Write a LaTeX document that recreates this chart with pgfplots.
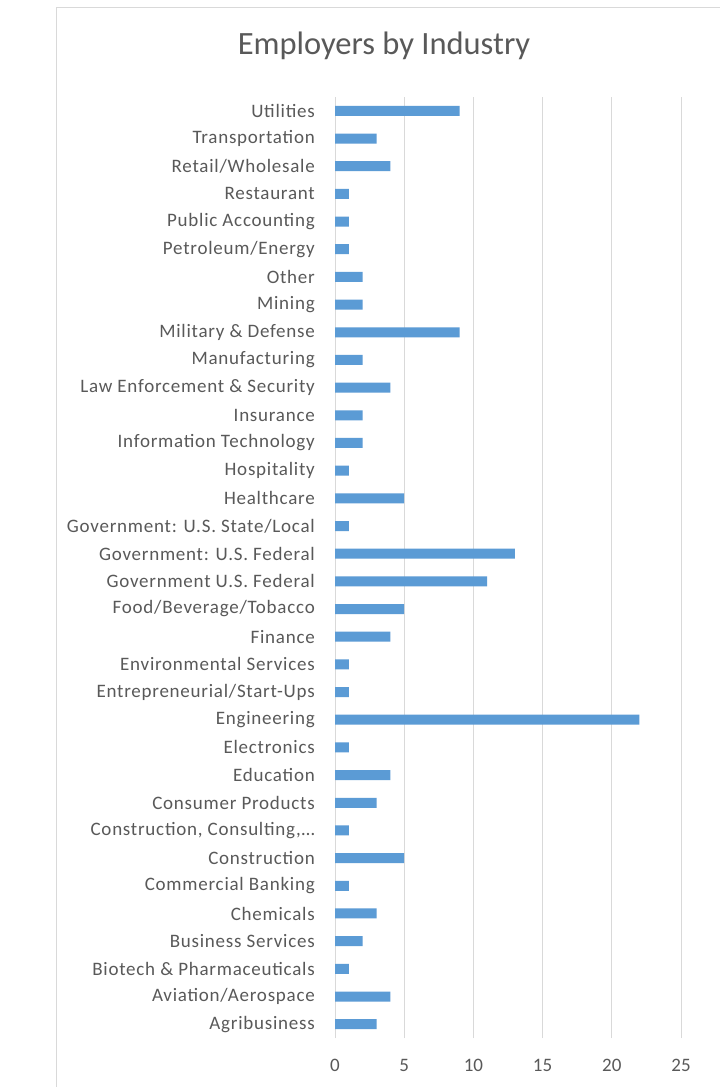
\documentclass[border=0pt]{standalone}
\usepackage{pgfplots}
\pgfplotsset{compat=1.18}
\usepackage{fontspec}
\setmainfont{Carlito}
\newfontfamily\lblfont[LetterSpace=4]{Carlito}
\definecolor{txt}{HTML}{595959}
\definecolor{grd}{HTML}{D9D9D9}
\definecolor{bar}{HTML}{5B9BD5}
\begin{document}
\begin{tikzpicture}[x=1bp,y=1bp]
\clip (0,0) rectangle (720,-1087);
\fill[white] (0,0) rectangle (720,-1087);
\draw[grd, line width=1bp] (56,-7) rectangle (760,-1120);
\node[text=txt, font=\fontsize{32.5bp}{38bp}\selectfont] at (384,-46) {Employers by Industry};
\begin{axis}[
  at={(335bp,-1038bp)}, anchor=south west,
  scale only axis, width=346bp, height=941bp,
  xmin=0, xmax=25, ymin=-0.5, ymax=33.5,
  xtick={0,5,...,25}, ytick={0,...,33},
  yticklabels={Agribusiness,Aviation/Aerospace,Biotech \& Pharmaceuticals,Business Services,Chemicals,Commercial Banking,Construction,{Construction, Consulting,…},Consumer Products,Education,Electronics,Engineering,Entrepreneurial/Start-Ups,Environmental Services,Finance,Food/Beverage/Tobacco,Government U.S. Federal,Government: U.S. Federal,Government: U.S. State/Local,Healthcare,Hospitality,Information Technology,Insurance,Law Enforcement \& Security,Manufacturing,Military \& Defense,Mining,Other,Petroleum/Energy,Public Accounting,Restaurant,Retail/Wholesale,Transportation,Utilities},
  major tick length=0pt,
  axis line style={draw=none},
  xmajorgrids, major grid style={grd, line width=1bp},
  ymajorgrids=false,
  ticklabel style={text=txt, font=\fontsize{19bp}{23bp}\selectfont},
  yticklabel style={inner sep=0pt, anchor=east, xshift=-20bp, font=\lblfont\fontsize{19bp}{23bp}\selectfont},
  xticklabel style={inner sep=0pt, anchor=north, yshift=-21bp},
  /pgf/number format/assume math mode=true,
  xbar, bar width=10bp,
]
\addplot[fill=bar, draw=none] coordinates {
(3,0) (4,1) (1,2) (2,3) (3,4) (1,5) (5,6) (1,7) (3,8) (4,9) (1,10) (22,11) (1,12) (1,13) (4,14) (5,15) (11,16) (13,17) (1,18) (5,19) (1,20) (2,21) (2,22) (4,23) (2,24) (9,25) (2,26) (2,27) (1,28) (1,29) (1,30) (4,31) (3,32) (9,33)
};
\end{axis}
\end{tikzpicture}
\end{document}
